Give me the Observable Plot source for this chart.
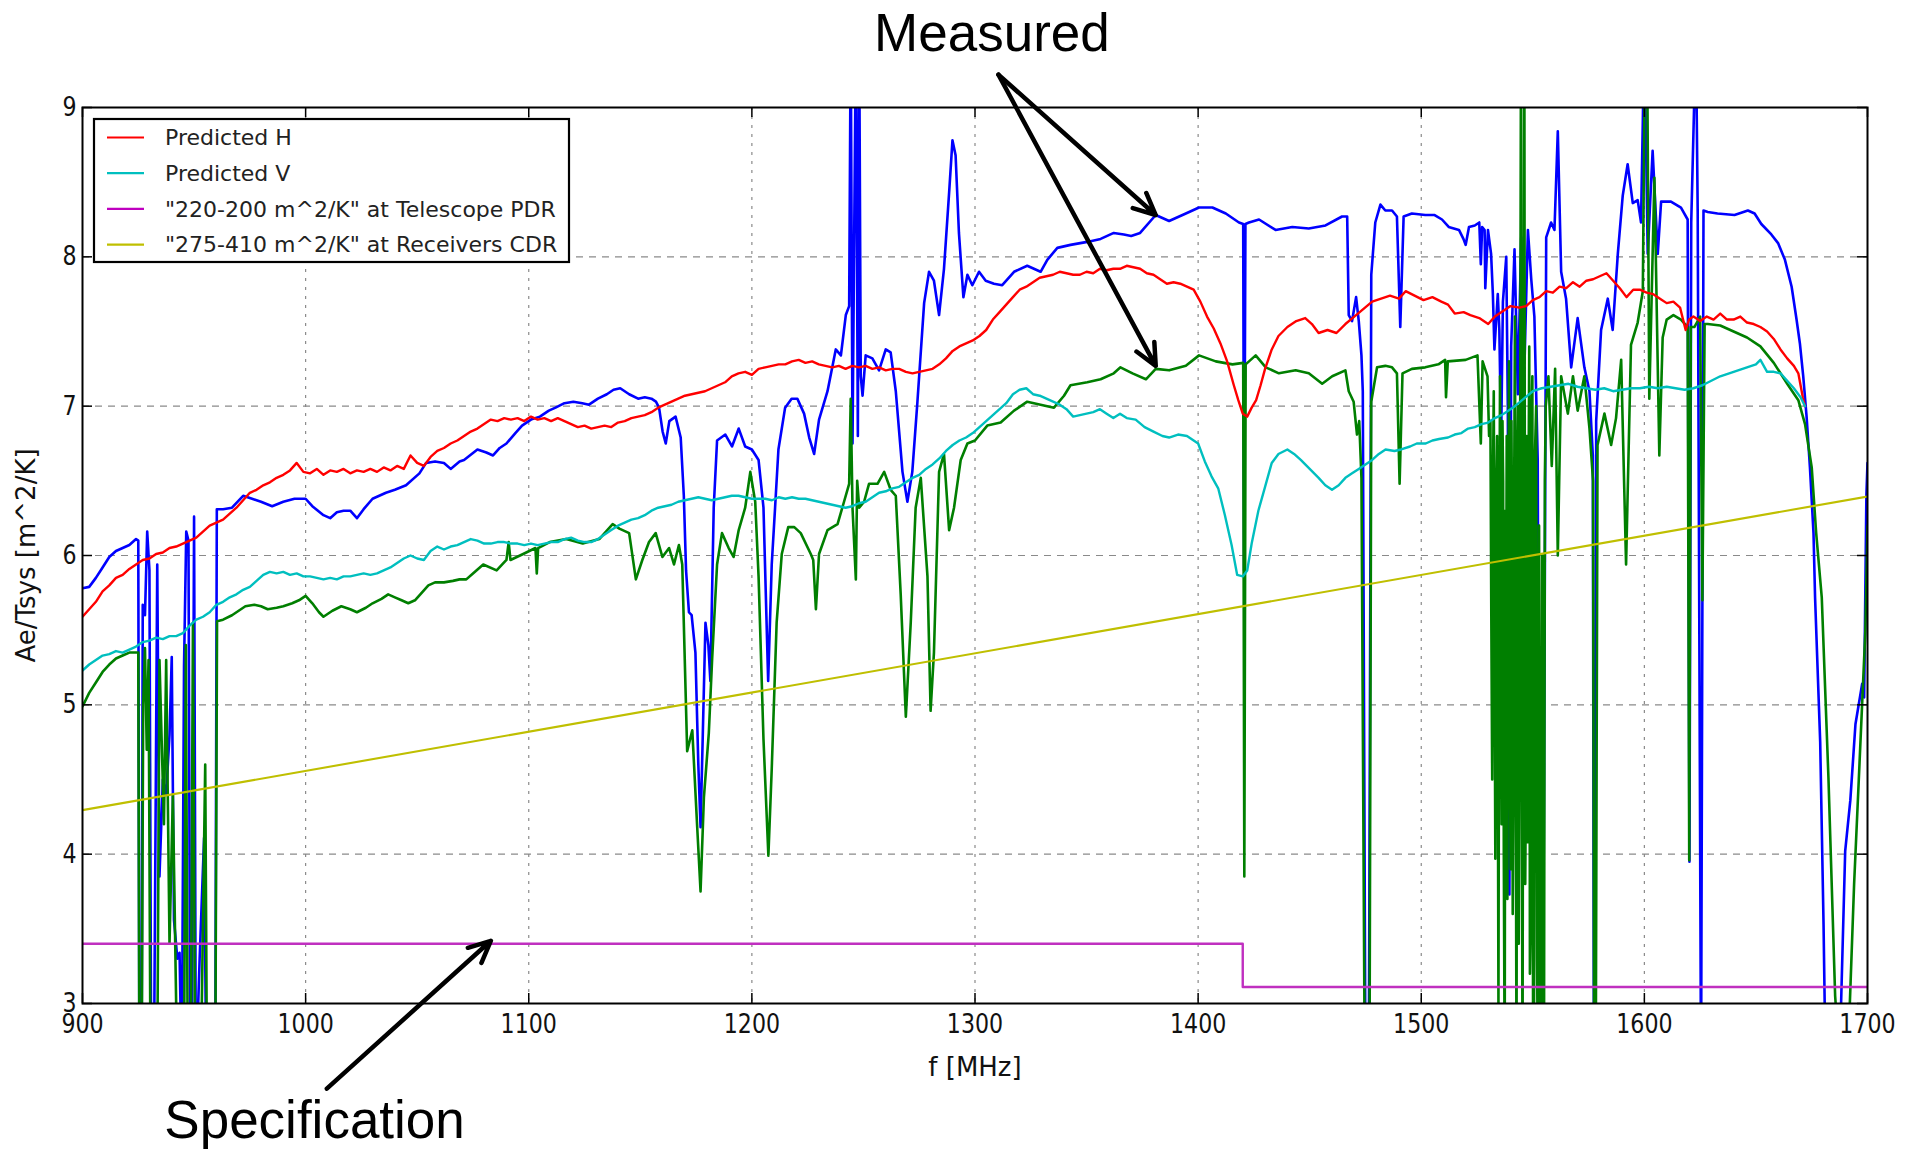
<!DOCTYPE html>
<html><head><meta charset="utf-8">
<script src="https://cdn.jsdelivr.net/npm/d3@7"></script>
<script src="https://cdn.jsdelivr.net/npm/@observablehq/plot@0.6"></script>
<style>html,body{margin:0;padding:0;background:#fff;}</style>
</head><body><div id="chart"></div>
<script>
const xTicks = [900,1000,1100,1200,1300,1400,1500,1600,1700];
const yTicks = [3,4,5,6,7,8,9];

const predictedH = [[900,5.59],[903,5.64],[906,5.69],[909,5.76],[912,5.80],[915,5.85],[918,5.87],[921,5.91],[924,5.94],[927,5.97],[930,5.98],[933,6.01],[936,6.02],[939,6.05],[942,6.06],[945,6.08],[948,6.10],[951,6.12],[954,6.16],[957,6.20],[960,6.22],[963,6.24],[966,6.28],[969,6.32],[972,6.37],[975,6.42],[978,6.44],[981,6.47],[984,6.49],[987,6.52],[990,6.54],[993,6.57],[996,6.62],[999,6.56],[1002,6.55],[1005,6.58],[1008,6.54],[1011,6.57],[1014,6.56],[1017,6.58],[1020,6.55],[1023,6.57],[1026,6.56],[1029,6.58],[1032,6.56],[1035,6.59],[1038,6.57],[1041,6.60],[1044,6.58],[1047,6.67],[1050,6.62],[1053,6.60],[1056,6.66],[1059,6.70],[1062,6.72],[1065,6.75],[1068,6.77],[1071,6.80],[1074,6.83],[1077,6.85],[1080,6.88],[1083,6.91],[1086,6.90],[1089,6.92],[1092,6.91],[1095,6.92],[1098,6.90],[1101,6.93],[1104,6.91],[1107,6.92],[1110,6.90],[1113,6.92],[1116,6.90],[1119,6.88],[1122,6.86],[1125,6.87],[1128,6.85],[1131,6.86],[1134,6.87],[1137,6.86],[1140,6.89],[1143,6.90],[1146,6.92],[1149,6.93],[1152,6.94],[1155,6.96],[1158,6.99],[1161,7.01],[1164,7.03],[1167,7.05],[1170,7.07],[1173,7.08],[1176,7.09],[1179,7.10],[1182,7.12],[1185,7.14],[1188,7.16],[1191,7.20],[1194,7.22],[1197,7.23],[1200,7.21],[1203,7.25],[1206,7.26],[1209,7.27],[1212,7.28],[1215,7.28],[1218,7.30],[1221,7.31],[1224,7.29],[1227,7.30],[1230,7.28],[1233,7.27],[1236,7.26],[1239,7.27],[1242,7.25],[1245,7.27],[1248,7.26],[1251,7.27],[1254,7.25],[1257,7.26],[1260,7.24],[1263,7.25],[1266,7.25],[1269,7.23],[1272,7.22],[1275,7.23],[1278,7.24],[1281,7.25],[1284,7.28],[1287,7.32],[1290,7.37],[1293,7.40],[1296,7.42],[1299,7.44],[1302,7.47],[1305,7.51],[1308,7.58],[1311,7.63],[1314,7.68],[1317,7.73],[1320,7.78],[1323,7.80],[1326,7.83],[1329,7.86],[1332,7.87],[1335,7.88],[1338,7.90],[1341,7.89],[1344,7.88],[1347,7.88],[1350,7.90],[1353,7.89],[1356,7.92],[1359,7.91],[1362,7.92],[1365,7.92],[1368,7.94],[1371,7.93],[1374,7.92],[1377,7.89],[1380,7.88],[1383,7.85],[1386,7.82],[1389,7.83],[1392,7.82],[1395,7.80],[1398,7.78],[1401,7.70],[1404,7.60],[1407,7.52],[1410,7.42],[1413,7.30],[1416,7.14],[1418,7.04],[1420,6.95],[1422,6.93],[1424,6.99],[1426,7.04],[1428,7.14],[1430,7.25],[1433,7.38],[1436,7.47],[1440,7.53],[1444,7.57],[1448,7.59],[1451,7.55],[1454,7.49],[1458,7.51],[1462,7.49],[1466,7.55],[1470,7.60],[1474,7.65],[1478,7.70],[1482,7.72],[1486,7.74],[1490,7.72],[1493,7.77],[1497,7.74],[1501,7.71],[1505,7.73],[1509,7.70],[1512,7.68],[1515,7.62],[1519,7.63],[1522,7.61],[1526,7.59],[1530,7.55],[1533,7.60],[1536,7.63],[1540,7.67],[1544,7.66],[1547,7.67],[1550,7.71],[1553,7.73],[1556,7.77],[1559,7.76],[1562,7.80],[1565,7.79],[1568,7.83],[1571,7.80],[1574,7.84],[1577,7.85],[1580,7.87],[1583,7.89],[1586,7.84],[1589,7.79],[1592,7.73],[1595,7.78],[1598,7.78],[1601,7.76],[1604,7.75],[1607,7.72],[1610,7.69],[1613,7.70],[1616,7.66],[1618.5,7.51],[1620,7.58],[1622,7.60],[1625,7.57],[1628,7.60],[1631,7.58],[1634,7.62],[1637,7.58],[1640,7.58],[1643,7.60],[1646,7.56],[1649,7.55],[1652,7.53],[1655,7.50],[1658,7.45],[1661,7.38],[1664,7.32],[1667,7.27],[1669,7.22],[1671,7.06],[1672,7.00]];

const predictedV = [[900,5.23],[903,5.27],[906,5.30],[909,5.33],[912,5.34],[915,5.36],[918,5.35],[921,5.37],[924,5.39],[927,5.42],[930,5.43],[933,5.45],[936,5.44],[939,5.46],[942,5.46],[945,5.48],[948,5.53],[951,5.57],[954,5.59],[957,5.62],[960,5.67],[963,5.69],[966,5.72],[969,5.74],[972,5.77],[975,5.79],[978,5.83],[981,5.87],[984,5.89],[987,5.88],[990,5.89],[993,5.87],[996,5.88],[999,5.86],[1002,5.86],[1005,5.85],[1008,5.84],[1011,5.85],[1014,5.84],[1017,5.86],[1020,5.86],[1023,5.87],[1026,5.88],[1029,5.87],[1032,5.88],[1035,5.90],[1038,5.92],[1041,5.95],[1044,5.98],[1047,6.00],[1050,5.98],[1053,5.97],[1056,6.03],[1059,6.06],[1062,6.04],[1065,6.06],[1068,6.07],[1071,6.09],[1074,6.11],[1077,6.10],[1080,6.08],[1083,6.08],[1086,6.09],[1089,6.09],[1092,6.08],[1095,6.08],[1098,6.07],[1101,6.08],[1104,6.07],[1107,6.08],[1110,6.09],[1113,6.09],[1116,6.11],[1119,6.12],[1122,6.10],[1125,6.09],[1128,6.09],[1131,6.11],[1134,6.14],[1137,6.17],[1140,6.20],[1143,6.22],[1146,6.24],[1149,6.25],[1152,6.27],[1155,6.30],[1158,6.32],[1161,6.33],[1164,6.34],[1167,6.36],[1170,6.37],[1173,6.38],[1176,6.39],[1179,6.38],[1182,6.37],[1185,6.38],[1188,6.39],[1191,6.40],[1194,6.40],[1197,6.39],[1200,6.38],[1203,6.38],[1206,6.38],[1209,6.37],[1212,6.39],[1215,6.38],[1218,6.39],[1221,6.38],[1224,6.38],[1227,6.37],[1230,6.36],[1233,6.35],[1236,6.34],[1239,6.33],[1242,6.32],[1245,6.33],[1248,6.35],[1251,6.36],[1254,6.39],[1257,6.42],[1260,6.43],[1263,6.45],[1266,6.46],[1269,6.49],[1272,6.52],[1275,6.54],[1278,6.58],[1281,6.61],[1284,6.65],[1287,6.70],[1290,6.74],[1293,6.77],[1296,6.79],[1299,6.82],[1302,6.86],[1305,6.90],[1308,6.94],[1311,6.98],[1314,7.02],[1317,7.08],[1320,7.11],[1323,7.12],[1326,7.08],[1329,7.07],[1332,7.05],[1335,7.03],[1338,7.01],[1341,6.98],[1344,6.93],[1347,6.94],[1350,6.95],[1353,6.96],[1356,6.98],[1359,6.95],[1362,6.92],[1365,6.95],[1368,6.92],[1372,6.91],[1376,6.86],[1380,6.83],[1384,6.80],[1387,6.79],[1391,6.81],[1395,6.80],[1398,6.77],[1400,6.75],[1403,6.63],[1406,6.53],[1409,6.45],[1412,6.27],[1415,6.07],[1417.5,5.87],[1420,5.86],[1422,5.90],[1424,6.08],[1427,6.30],[1430,6.46],[1433,6.62],[1436,6.68],[1440,6.71],[1443,6.68],[1446,6.64],[1450,6.58],[1454,6.52],[1457,6.47],[1460,6.44],[1463,6.47],[1466,6.52],[1469,6.55],[1472,6.58],[1475,6.61],[1478,6.64],[1481,6.68],[1484,6.71],[1488,6.70],[1491,6.71],[1495,6.73],[1498,6.75],[1502,6.75],[1505,6.77],[1508,6.78],[1512,6.79],[1515,6.81],[1518,6.82],[1521,6.85],[1524,6.86],[1527,6.88],[1530,6.89],[1533,6.92],[1536,6.94],[1539,6.97],[1542,7.00],[1546,7.05],[1550,7.10],[1554,7.12],[1558,7.13],[1562,7.14],[1566,7.15],[1570,7.13],[1574,7.12],[1578,7.11],[1582,7.12],[1586,7.10],[1590,7.11],[1594,7.12],[1598,7.12],[1602,7.13],[1606,7.12],[1610,7.13],[1614,7.12],[1618,7.11],[1622,7.12],[1626,7.14],[1630,7.17],[1634,7.20],[1638,7.22],[1642,7.24],[1646,7.26],[1650,7.28],[1652,7.31],[1655,7.23],[1658,7.23],[1661,7.22],[1664,7.17],[1667,7.12],[1670,7.06],[1672,7.00]];

const measuredH = [[900,5.78],[903,5.79],[906,5.85],[909,5.92],[912,5.99],[915,6.03],[918,6.05],[921,6.07],[924,6.11],[925,6.10],[925.5,2.5],[926.5,2.5],[927,5.67],[928,5.6],[929,6.16],[930,5.9],[930.8,2.5],[932,2.5],[933.5,5.94],[934.5,3.85],[936,4.5],[937.5,4.4],[939,4.8],[940,5.32],[941,3.56],[942.5,3.3],[943.5,3.34],[944.5,2.5],[945.5,5.26],[946.5,6.16],[947.5,6.1],[948.3,2.5],[949,2.5],[950,6.26],[950.8,2.5],[952.5,3.3],[954.5,4.11],[955.5,2.5],[959.5,2.5],[960.2,6.31],[963,6.31],[967,6.32],[972,6.40],[976,6.38],[980,6.36],[985,6.33],[990,6.36],[995,6.38],[1000,6.38],[1003,6.33],[1008,6.27],[1011,6.25],[1014,6.29],[1017,6.30],[1020,6.30],[1023,6.25],[1026,6.31],[1030,6.38],[1036,6.42],[1040,6.44],[1045,6.47],[1051,6.55],[1054,6.62],[1058,6.63],[1062,6.62],[1065,6.58],[1069,6.63],[1071,6.64],[1077,6.71],[1081,6.69],[1084,6.67],[1087,6.72],[1090,6.75],[1094,6.82],[1097,6.87],[1101,6.91],[1105,6.93],[1109,6.97],[1112,6.99],[1116,7.02],[1120,7.03],[1124,7.02],[1127,7.01],[1131,7.05],[1135,7.08],[1138,7.11],[1141,7.12],[1145,7.08],[1149,7.05],[1152,7.06],[1155,7.05],[1157,7.03],[1158.4,6.99],[1160,6.83],[1161.4,6.75],[1163,6.90],[1165.8,6.93],[1168.1,6.79],[1169.5,6.40],[1170.5,5.9],[1171.8,5.62],[1173,5.6],[1174.7,5.35],[1176,4.6],[1177,4.18],[1178,4.8],[1179.2,5.55],[1180.5,5.4],[1181.4,5.16],[1182.9,6.32],[1184.4,6.77],[1188.1,6.81],[1191.1,6.73],[1194.1,6.85],[1197,6.73],[1200,6.71],[1203,6.64],[1205.2,6.32],[1206.5,5.6],[1207.3,5.16],[1208.9,5.94],[1210.4,6.32],[1211.9,6.71],[1214.9,6.99],[1217.8,7.05],[1220.4,7.05],[1223.4,6.95],[1225.7,6.79],[1227.9,6.68],[1230.1,6.91],[1233.9,7.10],[1237.6,7.38],[1239.9,7.34],[1242.1,7.61],[1243.6,7.67],[1244.3,9.5],[1245.1,6.75],[1246.6,9.5],[1247.5,6.8],[1248.1,9.5],[1248.8,7.2],[1249.6,7.07],[1251,7.34],[1254,7.32],[1257,7.24],[1260,7.38],[1262.2,7.36],[1264.5,7.10],[1267.5,6.56],[1269.7,6.36],[1271.9,6.56],[1274.2,7.03],[1277.2,7.69],[1279.4,7.90],[1281.6,7.84],[1283.9,7.61],[1286.1,7.92],[1288.4,8.43],[1289.9,8.78],[1291.3,8.68],[1292.8,8.16],[1294.8,7.73],[1296.6,7.88],[1298.8,7.81],[1301.8,7.90],[1304.8,7.84],[1308.5,7.82],[1312.2,7.81],[1317.5,7.90],[1323.4,7.94],[1329.4,7.90],[1332.4,7.98],[1336.9,8.06],[1342.8,8.08],[1350.3,8.10],[1356.3,8.12],[1362.2,8.16],[1366.7,8.15],[1370,8.14],[1374,8.16],[1381,8.28],[1387,8.24],[1394.5,8.29],[1400.4,8.33],[1406.4,8.33],[1412.4,8.29],[1418.3,8.23],[1420.2,8.22],[1420.6,5.9],[1421.2,8.22],[1422.8,8.23],[1427.3,8.25],[1434.7,8.18],[1442.2,8.20],[1449.6,8.19],[1457.1,8.21],[1464.5,8.27],[1466.8,8.27],[1467.5,7.61],[1469,7.57],[1470.8,7.73],[1472,7.57],[1473.2,7.34],[1473.8,7.10],[1475,2.5],[1476.5,2.5],[1477.6,7.88],[1479.4,8.23],[1481.7,8.35],[1483.9,8.31],[1486.9,8.31],[1489.1,8.27],[1490.6,7.53],[1492.1,8.27],[1495.8,8.29],[1501.8,8.28],[1506,8.28],[1509.3,8.25],[1512.3,8.20],[1516.9,8.18],[1518.9,8.12],[1519.9,8.08],[1521.4,8.20],[1524,8.21],[1526,8.23],[1526.7,7.95],[1527.3,8.2],[1528.4,8.18],[1528.7,7.79],[1529.9,8.18],[1531.3,8.02],[1532.1,7.75],[1532.8,7.38],[1534.3,7.75],[1535,7.51],[1535.8,6.77],[1536.6,7.7],[1538.1,8.0],[1538.8,7.0],[1539.5,3.73],[1540.3,7.4],[1541.8,8.05],[1543.3,7.08],[1544.8,8.13],[1546.3,7.3],[1547.8,8.18],[1549.3,7.85],[1550.7,7.6],[1552.2,6.64],[1553,2.5],[1554.5,2.5],[1556,8.13],[1558.2,8.23],[1559.7,8.18],[1561.2,8.84],[1562.7,7.90],[1564.9,7.72],[1567.2,7.26],[1570.1,7.59],[1573.1,7.26],[1575.4,7.10],[1576.9,6.67],[1577.4,2.5],[1578,2.5],[1578.4,6.9],[1580.6,7.51],[1583.6,7.72],[1585.8,7.51],[1588.1,8.02],[1590.3,8.41],[1592.5,8.62],[1594.8,8.36],[1597,8.38],[1598.5,8.23],[1600,9.5],[1601.5,8.02],[1603.7,8.71],[1606,8.02],[1607.5,8.37],[1611.9,8.37],[1616.4,8.33],[1619.4,8.25],[1620.2,3.95],[1621,8.23],[1623.1,9.5],[1623.9,8.3],[1625.4,2.5],[1626.5,8.31],[1628.4,8.30],[1632.8,8.29],[1640.4,8.28],[1646.4,8.31],[1649.4,8.29],[1652.4,8.22],[1656.9,8.15],[1660,8.09],[1663,7.98],[1666,7.80],[1668.2,7.58],[1669.7,7.42],[1671.2,7.20],[1672.7,6.93],[1674.2,6.59],[1675.8,6.15],[1676.5,5.72],[1678.8,4.75],[1680.3,3.53],[1681,2.8],[1687.8,2.8],[1690,4.02],[1692.3,4.36],[1694.6,4.87],[1697.6,5.14],[1698.5,5.05],[1699.5,6.4],[1700,6.62]];

const measuredV = [[900,4.99],[903,5.08],[906,5.15],[909,5.22],[912,5.27],[915,5.31],[918,5.33],[921,5.35],[924,5.35],[925,5.35],[925.5,2.5],[926.5,2.5],[927.2,5.0],[928,5.38],[928.8,4.7],[929.6,5.3],[930.5,2.5],[933.5,2.5],[934.5,5.3],[936.5,4.2],[937.5,5.3],[939,3.4],[940.5,4.4],[942.5,2.5],[945.5,2.5],[946.3,5.4],[947.2,2.5],[948.5,2.5],[949.5,5.55],[950.5,2.5],[953,2.5],[955,4.6],[955.8,2.5],[959.5,2.5],[960.3,5.56],[963,5.57],[967,5.60],[970,5.63],[973,5.66],[977,5.67],[980,5.66],[983,5.64],[987,5.65],[990,5.66],[994,5.68],[997,5.70],[1000,5.73],[1003,5.68],[1006,5.62],[1008,5.59],[1012,5.63],[1016,5.66],[1020,5.64],[1023,5.62],[1027,5.65],[1030,5.68],[1034,5.71],[1037,5.74],[1040,5.72],[1043,5.70],[1046,5.68],[1049,5.70],[1052,5.75],[1055,5.80],[1058,5.82],[1062,5.82],[1066,5.83],[1069,5.84],[1072,5.84],[1075,5.88],[1079.6,5.94],[1085.6,5.90],[1090,5.97],[1091,6.09],[1091.8,5.97],[1097.5,6.01],[1103,6.05],[1103.6,5.88],[1104.2,6.05],[1109.4,6.09],[1116.8,6.11],[1124.2,6.08],[1131.6,6.11],[1137.6,6.21],[1140.6,6.18],[1145,6.15],[1148,5.84],[1150.9,5.97],[1153.9,6.09],[1156.9,6.15],[1159.9,5.99],[1162.9,6.05],[1165.1,5.94],[1167.3,6.07],[1168.8,5.94],[1171,4.69],[1173.3,4.83],[1175.5,4.18],[1177,3.75],[1178.5,4.38],[1180.7,4.81],[1182.2,5.31],[1184.4,5.94],[1186.6,6.15],[1189.6,6.05],[1191.8,5.99],[1194.1,6.17],[1197,6.32],[1199.3,6.56],[1201.5,6.36],[1203,5.86],[1205.2,4.77],[1207.4,3.99],[1208.9,4.57],[1211.1,5.55],[1213.4,6.01],[1216.3,6.19],[1219,6.19],[1221.9,6.15],[1226.4,6.01],[1227.5,5.97],[1228.7,5.64],[1230.1,6.01],[1233.9,6.17],[1238.4,6.21],[1241.3,6.36],[1243.6,6.48],[1244.3,7.05],[1245.1,6.32],[1246.6,5.84],[1247.2,6.5],[1248.1,6.32],[1250.3,6.36],[1252.5,6.48],[1256.3,6.48],[1259.3,6.56],[1262.2,6.44],[1264.5,6.40],[1266.7,5.74],[1269,4.92],[1271.2,5.55],[1273.4,6.32],[1275.7,6.52],[1278.7,5.86],[1280.1,4.96],[1281.6,5.35],[1283.9,6.56],[1286.1,6.68],[1288.4,6.17],[1290.6,6.32],[1293.6,6.64],[1296.6,6.75],[1300,6.77],[1305.5,6.87],[1311.5,6.89],[1317.5,6.97],[1323.4,7.03],[1329.4,7.01],[1335.4,6.99],[1339.9,7.07],[1342.8,7.14],[1350.3,7.16],[1356.3,7.18],[1362.2,7.22],[1365.2,7.26],[1370.6,7.22],[1376.6,7.18],[1381,7.25],[1387,7.24],[1394.5,7.27],[1400.4,7.34],[1407.9,7.30],[1415.4,7.28],[1420.2,7.29],[1420.7,3.85],[1421.3,7.28],[1425.8,7.34],[1430.3,7.26],[1436.2,7.22],[1443.7,7.24],[1449.6,7.22],[1455.6,7.15],[1460.1,7.20],[1466,7.24],[1467.5,7.10],[1469.7,7.03],[1471.2,6.81],[1472.2,6.9],[1473.2,6.52],[1474.7,2.5],[1476.8,2.5],[1477.6,7.03],[1480.2,7.26],[1483.9,7.27],[1486.9,7.26],[1489.1,7.22],[1490.3,6.48],[1491.6,7.22],[1495.8,7.25],[1501.8,7.26],[1507.7,7.28],[1510.7,7.31],[1511.1,7.06],[1511.9,7.30],[1519.9,7.31],[1525.2,7.34],[1526.7,6.75],[1527.5,7.3],[1529.7,7.2],[1530.4,6.8],[1531,6.9],[1531.4,5.6],[1531.8,4.5],[1532.2,6.6],[1532.5,7.1],[1532.9,5.2],[1533.2,3.97],[1533.6,6.4],[1534,6.8],[1534.3,4.8],[1534.6,3.0],[1535,6.0],[1535.3,7.2],[1535.7,5.5],[1536,4.2],[1536.4,6.9],[1536.7,6.5],[1537,4.0],[1537.4,2.5],[1537.7,6.3],[1538,5.1],[1538.3,6.8],[1538.6,3.7],[1539,5.8],[1539.3,7.3],[1539.7,5.0],[1540,3.9],[1540.4,6.9],[1540.7,6.2],[1541,3.6],[1541.4,4.63],[1541.7,6.6],[1542,7.6],[1542.4,4.4],[1542.7,2.5],[1543,6.5],[1543.4,7.0],[1543.7,3.4],[1544,4.63],[1544.4,7.3],[1544.7,9.5],[1545,5.0],[1545.4,2.5],[1545.8,7.0],[1546.2,9.5],[1546.6,3.8],[1546.9,4.5],[1547.3,6.8],[1547.7,4.08],[1548,6.2],[1548.4,7.4],[1548.7,3.2],[1549,3.5],[1549.4,6.9],[1549.8,7.2],[1550.1,3.0],[1550.5,2.5],[1551,6.7],[1551.5,7.0],[1551.9,3.3],[1552.3,2.5],[1552.8,6.2],[1553.3,2.5],[1553.8,4.0],[1554.2,6.0],[1554.6,3.0],[1555,2.5],[1555.4,6.5],[1555.8,7.0],[1557,7.2],[1558.5,6.6],[1560,7.25],[1561.2,6.0],[1562.7,7.2],[1565.7,6.95],[1568,7.2],[1570.1,6.97],[1573.1,7.2],[1575.4,6.85],[1577,6.5],[1577.5,2.5],[1578.2,2.5],[1579,6.74],[1582.1,6.95],[1585.1,6.74],[1587.3,6.92],[1589.6,7.31],[1591.8,5.94],[1594,7.41],[1597,7.56],[1599.3,7.77],[1600.3,9.5],[1601.2,9.5],[1602.2,7.05],[1604.5,8.53],[1606.7,6.67],[1608.2,7.46],[1610,7.58],[1613,7.61],[1616.4,7.58],[1619.4,7.53],[1620.1,3.96],[1620.8,7.53],[1622.4,7.53],[1625,7.6],[1626,5.7],[1627,7.55],[1628.4,7.55],[1634,7.54],[1640,7.50],[1646,7.46],[1652,7.40],[1658,7.29],[1664,7.15],[1669,7.04],[1672,6.88],[1675,6.59],[1677,6.15],[1679.5,5.72],[1682.5,4.51],[1685.5,3.05],[1688,2.5],[1691.6,2.8],[1694,3.8],[1696.1,4.5],[1699,5.48],[1700,6.2]];

const specPDR = [[900,3.4],[1420,3.11],[1700,3.11]];
const specCDR = [[900,4.295],[1700,6.395]];

const legendLabels = ["Predicted H","Predicted V","\"220-200 m^2/K\" at Telescope PDR","\"275-410 m^2/K\" at Receivers CDR"];
const legendColors = ["#ff0000","#00bfbf","#bf00bf","#bfbf00"];

const noteTexts = [{text:"Measured", x:1307.6, y:9.49},{text:"Specification", x:1004, y:2.21}];
const noteArrows = [{x1:1310.5,y1:9.22,x2:1381,y2:8.28},{x1:1310.5,y1:9.22,x2:1381,y2:7.27},{x1:1009.5,y1:2.43,x2:1083,y2:3.42}];

const W = 1907, H = 1152, mL = 82, mR = 40, mT = 107, mB = 149;
const innerW = W - mL - mR, innerH = H - mT - mB, tickLen = 10;

const line = (data, color, w, extra = {}) => Plot.line(data, {x: d => d[0], y: d => d[1], stroke: color, strokeWidth: w, clip: true, ...extra});

const chart = Plot.plot({
  width: W, height: H,
  marginLeft: mL, marginRight: mR, marginTop: mT, marginBottom: mB,
  style: {fontFamily: "DejaVu Sans", fontSize: "27px", color: "#111", background: "white", overflow: "visible"},
  x: {domain: [900,1700], ticks: xTicks, tickSize: 0, tickPadding: 10, tickFormat: d => String(d), label: "f [MHz]", labelAnchor: "center", labelOffset: 72, labelArrow: "none"},
  y: {domain: [3,9], ticks: yTicks, tickSize: 0, tickPadding: 6, tickFormat: d => String(d), label: "Ae/Tsys [m^2/K]", labelAnchor: "center", labelOffset: 66, labelArrow: "none"},
  marks: [
    Plot.ruleY(yTicks.slice(1,-1), {y: d => d, stroke: "#8a8a8a", strokeWidth: 1.2, strokeDasharray: "7,6"}),
    Plot.ruleX(xTicks.slice(1,-1), {x: d => d, stroke: "#8a8a8a", strokeWidth: 1.2, strokeDasharray: "3,6"}),
    line(measuredH, "#0000ff", 2.6),
    line(measuredV, "#007f00", 2.6),
    line(predictedH, "#ff0000", 2.4),
    line(predictedV, "#00bfbf", 2.4),
    line(specPDR, "#c030c0", 2.4, {curve: "step-after"}),
    line(specCDR, "#bfbf00", 2.1),
    Plot.frame({stroke: "black", strokeWidth: 2}),
    Plot.ruleX(xTicks, {x: d => d, insetTop: innerH - tickLen, stroke: "black", strokeWidth: 1.5}),
    Plot.ruleX(xTicks, {x: d => d, insetBottom: innerH - tickLen, stroke: "black", strokeWidth: 1.5}),
    Plot.ruleY(yTicks, {y: d => d, insetRight: innerW - tickLen, stroke: "black", strokeWidth: 1.5}),
    Plot.ruleY(yTicks, {y: d => d, insetLeft: innerW - tickLen, stroke: "black", strokeWidth: 1.5}),
    Plot.arrow(noteArrows, {x1: "x1", y1: "y1", x2: "x2", y2: "y2", stroke: "black", strokeWidth: 4.5, headLength: 8, headAngle: 50}),
    Plot.text(noteTexts, {x: "x", y: "y", text: "text", fontFamily: "Liberation Sans", fontSize: 53, fill: "black", textAnchor: "middle", lineAnchor: "middle"})
  ]
});
document.getElementById("chart").append(chart);

// condensed tick labels, as in the reference
d3.select(chart).selectAll('g[aria-label="x-axis tick label"] text, g[aria-label="y-axis tick label"] text, g[aria-label="x-axis"] .tick text, g[aria-label="y-axis"] .tick text').each(function() {
  const t = this.getAttribute("transform") || "";
  this.setAttribute("transform", (t + " scale(0.82,1)").trim());
});
d3.select(chart).selectAll('g[aria-label="x-axis label"] text, g[aria-label="y-axis label"] text')
  .attr("font-size", 26)
  .each(function() { this.textContent = this.textContent.replace(/\s*[→↑←↓]\s*/g, "").trim(); });

// legend inside the plot, upper left
const lg = d3.select(chart).append("g").attr("font-family", "DejaVu Sans").attr("font-size", 22).attr("text-anchor", "start");
lg.append("rect").attr("x", 94).attr("y", 119).attr("width", 475).attr("height", 143)
  .attr("fill", "white").attr("stroke", "black").attr("stroke-width", 2.2);
legendLabels.forEach((lab, i) => {
  const cy = 137.5 + i * 35.7;
  lg.append("line").attr("x1", 107).attr("x2", 144).attr("y1", cy).attr("y2", cy)
    .attr("stroke", legendColors[i]).attr("stroke-width", 2.2);
  lg.append("text").attr("x", 165).attr("y", cy).attr("dy", "0.35em").attr("text-anchor", "start").attr("fill", "#222").text(lab);
});
</script></body></html>
